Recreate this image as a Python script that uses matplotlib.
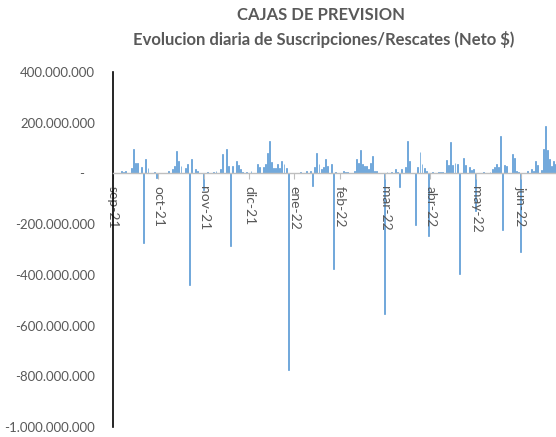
import matplotlib.pyplot as plt
from matplotlib.ticker import FuncFormatter
import numpy as np
import pandas as pd

plt.rcParams['font.family'] = ['Lato', 'DejaVu Sans']

# dias habiles sep-21 .. jun-22
fechas = pd.bdate_range('2021-09-01', '2022-06-30')

# neto diario en millones de $
neto_millones = [
    0, 0, 0, 0, 10, 5, 10, 0, 0, 20,
    98, 42, 42, 0, 26, -275, 55, 20, 0, 0,
    7, -20, 0, 0, 0, 0, 0, 10, 0, 16,
    29, 89, 50, 29, 0, 20, 37, -440, 55, 0,
    16, 10, 0, 0, -65, 0, 5, 0, 0, 7,
    10, 0, 16, 75, 0, 98, 29, -285, 29, 0,
    50, 33, 16, 7, 0, 5, 0, 10, 0, 0,
    37, 24, 0, 24, 37, 79, 129, 46, 20, 20,
    39, 20, 50, 37, 20, -775, 0, 0, 0, 0,
    0, 5, 0, 0, 10, 0, 10, -50, 26, 81,
    39, 16, 24, 55, 29, 0, 39, -375, 5, 0,
    0, 0, 10, 5, 7, 0, 0, 10, 55, 42,
    94, 37, 29, 29, 16, 42, 70, 10, 10, 0,
    0, 0, -555, 5, 0, 5, 0, 16, 5, -52,
    16, 0, 24, 129, 50, 0, 0, -205, 26, 86,
    37, 20, 10, -245, 0, 5, 0, 0, 5, 5,
    5, 0, 53, 33, 122, 33, 43, 39, -395, 0,
    59, 33, 0, 24, 13, 16, -150, 0, 0, 0,
    5, 0, 0, 5, 18, 26, 37, 24, 147, -225,
    35, 29, 0, 0, 75, 59, 10, 5, -310, 0,
    0, 10, 0, 16, 10, 50, 33, 0, 13, 96,
    188, 92, 55, 29, 50, 37, 20,
]

meses = {1: 'ene', 2: 'feb', 3: 'mar', 4: 'abr', 5: 'may', 6: 'jun',
         7: 'jul', 8: 'ago', 9: 'sep', 10: 'oct', 11: 'nov', 12: 'dic'}
paso_etiquetas = 22

gris = '#595959'
azul = '#5B9BD5'


def fmt_miles(v, pos):
    if v == 0:
        return '-   '
    return '{:,.0f}'.format(v).replace(',', '.')


fig = plt.figure(figsize=(5.56, 4.37), dpi=100)
ax = fig.add_axes([113 / 556, 10 / 437, 445 / 556, 355 / 437])

x = np.arange(len(fechas))
valores = np.array(neto_millones[:len(fechas)]) * 1e6
ax.bar(x, valores, width=0.45, color=azul, edgecolor=azul, linewidth=0.5)

ax.set_xlim(0, len(fechas) - 1)
ax.set_ylim(-1e9, 4e8)
ax.set_yticks(np.arange(-1e9, 4.01e8, 2e8))
ax.yaxis.set_major_formatter(FuncFormatter(fmt_miles))

for s in ['top', 'right']:
    ax.spines[s].set_visible(False)
ax.spines['left'].set_color('black')
ax.spines['left'].set_linewidth(1.2)
ax.spines['bottom'].set_position(('data', 0))
ax.spines['bottom'].set_color('#bfbfbf')
ax.spines['bottom'].set_linewidth(1.0)

pos = x[::paso_etiquetas]
etiquetas = ['%s-%s' % (meses[fechas[i].month], fechas[i].strftime('%y')) for i in pos]
ax.set_xticks(pos)
ax.set_xticklabels(etiquetas, rotation=270)
ax.tick_params(axis='x', length=4, color='#bfbfbf', pad=5, labelcolor=gris, labelsize=10)
ax.tick_params(axis='y', length=0, pad=13, labelcolor=gris, labelsize=9.5)

fig.text(321 / 556, 1 - 15 / 437, 'CAJAS DE PREVISION', ha='center', va='center',
         fontweight='bold', fontsize=12, color=gris)
fig.text(324 / 556, 1 - 40 / 437, 'Evolucion diaria de Suscripciones/Rescates (Neto $)',
         ha='center', va='center', fontweight='bold', fontsize=12, color=gris)

fig.savefig('out.png', dpi=100)
